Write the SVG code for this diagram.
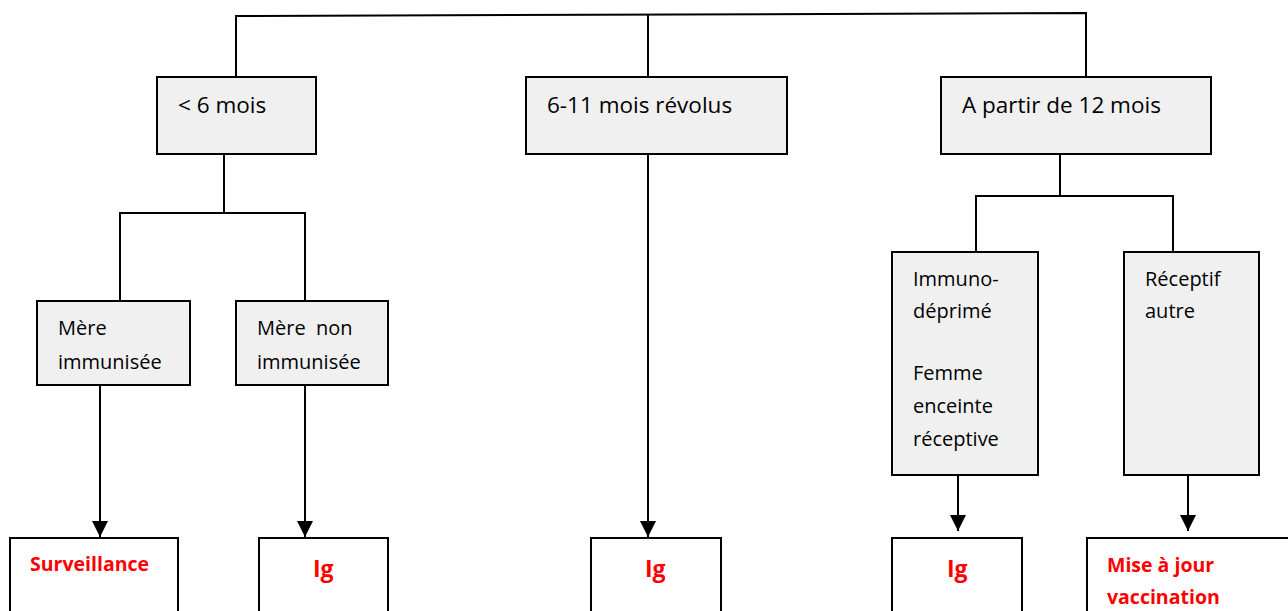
<svg xmlns="http://www.w3.org/2000/svg" width="1288" height="611" viewBox="0 0 1288 611">
<style>
.box{fill:#f0f0f0;stroke:#000;stroke-width:2}
.res{fill:#fff;stroke:#000;stroke-width:2}
.t1{font-family:"Open Sans","Liberation Sans",sans-serif;font-size:22.5px;fill:#000}
.t2{font-family:"Open Sans","Liberation Sans",sans-serif;font-size:20px;fill:#000}
.r{font-family:"Open Sans","Liberation Sans",sans-serif;font-weight:bold;font-size:19.5px;fill:#ff0000}
.ig{font-family:"Open Sans","Liberation Sans",sans-serif;font-weight:bold;font-size:23px;fill:#ff0000}
.c{fill:none;stroke:#000;stroke-width:2}
</style>
<defs>
<marker id="ah" markerWidth="8" markerHeight="8" refX="8" refY="4" orient="auto" markerUnits="strokeWidth">
<path d="M0,0 L8,4 L0,8 Z" fill="#000"/>
</marker>
</defs>
<g id="connectors">
<path class="c" d="M236,77 V16 L1086,13 V77"/>
<path class="c" d="M648,14.5 V77"/>
<path class="c" d="M224,154 V213 M120,301 V213 H305 V301"/>
<path class="c" d="M1060,154 V196 M976,252 V196 H1173 V252"/>
<path class="c" d="M100,386 V537" marker-end="url(#ah)"/>
<path class="c" d="M305,386 V537" marker-end="url(#ah)"/>
<path class="c" d="M648,154 V537" marker-end="url(#ah)"/>
<path class="c" d="M958,475 V531" marker-end="url(#ah)"/>
<path class="c" d="M1188,475 V531" marker-end="url(#ah)"/>
</g>
<g id="n_lt6"><rect class="box" x="157" y="77" width="159" height="77"/><text class="t1" x="178" y="113">&lt; 6 mois</text></g>
<g id="n_611"><rect class="box" x="526" y="77" width="261" height="77"/><text class="t1" x="547" y="113">6-11 mois révolus</text></g>
<g id="n_12"><rect class="box" x="941" y="77" width="270" height="77"/><text class="t1" x="962" y="113">A partir de 12 mois</text></g>
<g id="n_mi"><rect class="box" x="37" y="301" width="153" height="84"/><text class="t2" x="58" y="335">Mère</text><text class="t2" x="58" y="369">immunisée</text></g>
<g id="n_mni"><rect class="box" x="236" y="301" width="152" height="84"/><text class="t2" x="257" y="335" xml:space="preserve">Mère  non</text><text class="t2" x="257" y="369">immunisée</text></g>
<g id="n_imm"><rect class="box" x="892" y="252" width="146" height="223"/>
<text class="t2" x="913" y="286">Immuno-</text><text class="t2" x="913" y="318">déprimé</text>
<text class="t2" x="913" y="380">Femme</text><text class="t2" x="913" y="413">enceinte</text><text class="t2" x="913" y="446">réceptive</text></g>
<g id="n_rec"><rect class="box" x="1124" y="252" width="135" height="223"/><text class="t2" x="1145" y="286">Réceptif</text><text class="t2" x="1145" y="318">autre</text></g>
<g id="r_surv"><rect class="res" x="10" y="538" width="168" height="80"/><text class="r" x="30" y="571">Surveillance</text></g>
<g id="r_ig1"><rect class="res" x="259" y="538" width="129" height="80"/><text class="ig" x="313" y="577">Ig</text></g>
<g id="r_ig2"><rect class="res" x="591" y="538" width="130" height="80"/><text class="ig" x="645" y="577">Ig</text></g>
<g id="r_ig3"><rect class="res" x="892" y="538" width="130" height="80"/><text class="ig" x="947" y="577">Ig</text></g>
<g id="r_maj"><rect class="res" x="1087" y="538" width="210" height="80"/><text class="r" x="1107" y="572">Mise à jour</text><text class="r" x="1107" y="604">vaccination</text></g>
</svg>
